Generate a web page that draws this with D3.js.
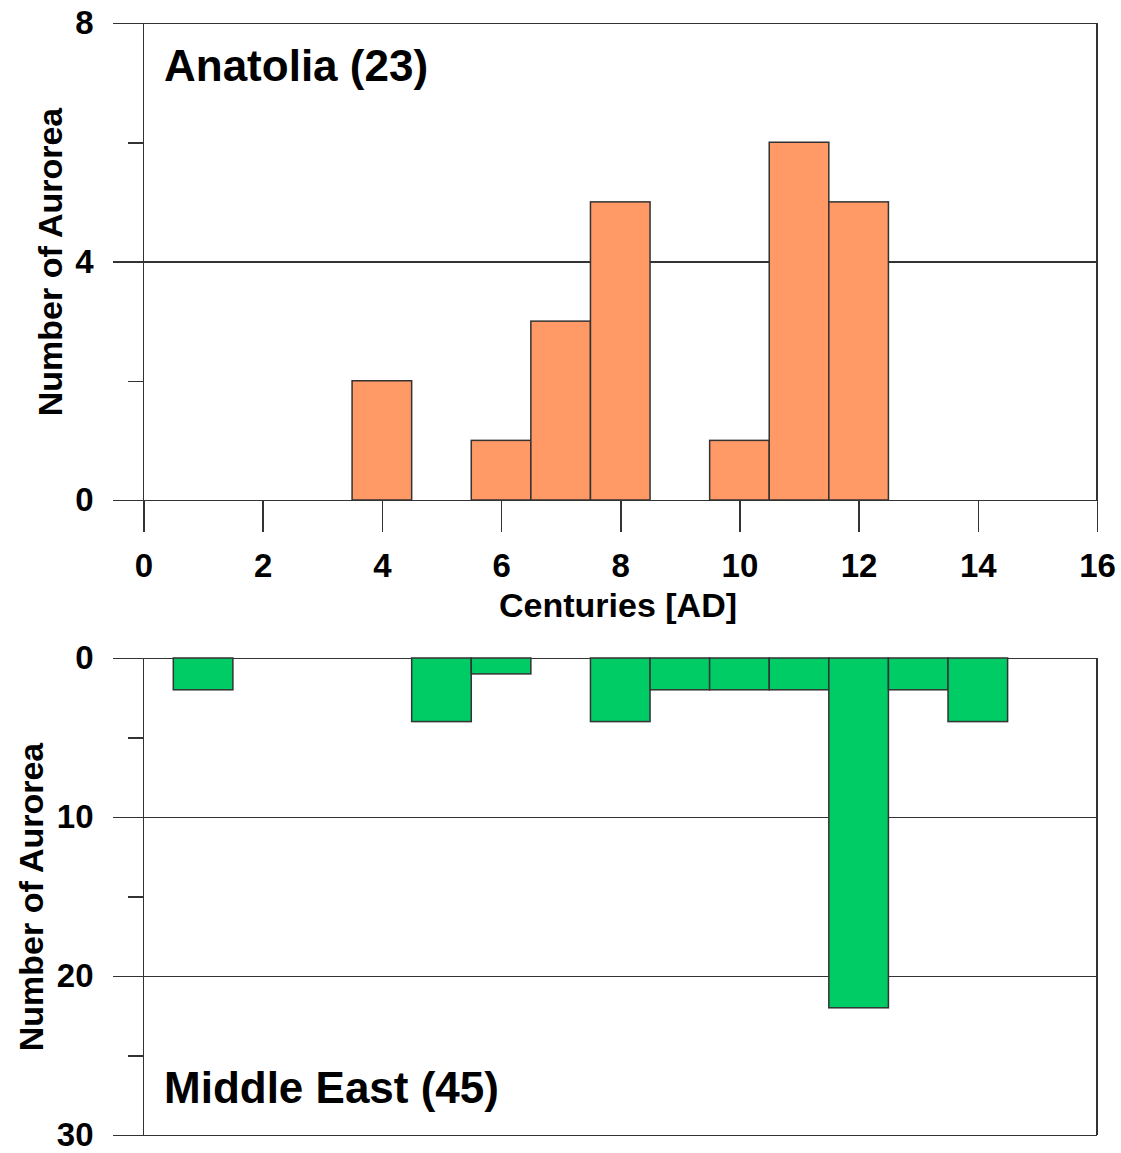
<!DOCTYPE html>
<html lang="en">
	<head>
		<meta charset="utf-8">
		<title>Aurorae by century</title>
		<script type="text/javascript" src="https://cdn.jsdelivr.net/npm/d3@7"></script>
		<style type="text/css">
			body { margin: 0; background: #fff; }
			.axis path { display: none; }
			.axis line { stroke: #333; stroke-width: 1.5; shape-rendering: crispEdges; }
			.axis text { font-family: "Liberation Sans", Arial, sans-serif; font-size: 33px; font-weight: bold; fill: #000; }
			.label { font-family: "Liberation Sans", Arial, sans-serif; font-weight: bold; fill: #000; }
		</style>
	</head>
	<body>
		<script type="text/javascript">
			// counts per century (bar centred on century number)
			var anatoliaCenturies = [4, 6, 7, 8, 10, 11, 12];
			var anatoliaCounts    = [2, 1, 3, 5, 1, 6, 5];

			var middleEastCenturies = [1, 5, 6, 8, 9, 10, 11, 12, 13, 14];
			var middleEastCounts    = [2, 4, 1, 4, 2, 2, 2, 22, 2, 4];

			var xTicks = [0, 2, 4, 6, 8, 10, 12, 14, 16];
			var topMajor = [0, 4, 8], topMinor = [2, 6];
			var botMajor = [0, 10, 20, 30], botMinor = [5, 15, 25];

			var w = 1121, h = 1153;
			var left = 143.5, right = 1097;

			var svg = d3.select("body").append("svg").attr("width", w).attr("height", h);

			var x = d3.scaleLinear().domain([0, 16]).range([left, right]);
			var yTop = d3.scaleLinear().domain([0, 8]).range([500, 23]);
			var yBot = d3.scaleLinear().domain([0, 30]).range([658, 1135]);

			var anatolia = anatoliaCenturies.map(function(c, i) { return {c: c, n: anatoliaCounts[i]}; });
			var middleEast = middleEastCenturies.map(function(c, i) { return {c: c, n: middleEastCounts[i]}; });

			function yAxes(scale, major, minor) {
				// major ticks run across the plot as grid lines
				var g = svg.append("g").attr("class", "axis").attr("transform", "translate(" + left + ",0)")
					.call(d3.axisLeft(scale).tickValues(major).tickSize(31).tickPadding(19));
				g.selectAll("line").attr("x1", right - left);
				svg.append("g").attr("class", "axis").attr("transform", "translate(" + left + ",0)")
					.call(d3.axisLeft(scale).tickValues(minor).tickSize(16).tickFormat(""));
				// left and right frame lines
				svg.append("g").attr("class", "axis").selectAll("line")
					.data([left, right]).enter().append("line")
					.attr("x1", function(d) { return d; }).attr("x2", function(d) { return d; })
					.attr("y1", scale(scale.domain()[0])).attr("y2", scale(scale.domain()[1]));
			}

			// top panel
			yAxes(yTop, topMajor, topMinor);
			svg.append("g").attr("class", "axis").attr("transform", "translate(0,500)")
				.call(d3.axisBottom(x).tickValues(xTicks).tickSize(32).tickPadding(22));

			svg.selectAll("rect.top").data(anatolia).enter().append("rect")
				.attr("class", "top")
				.attr("x", function(d) { return x(d.c - 0.5); })
				.attr("width", function(d) { return x(d.c + 0.5) - x(d.c - 0.5); })
				.attr("y", function(d) { return yTop(d.n); })
				.attr("height", function(d) { return yTop(0) - yTop(d.n); })
				.style("fill", "#ff9966").style("stroke", "#333").style("stroke-width", 1.5);

			// bottom panel
			yAxes(yBot, botMajor, botMinor);

			svg.selectAll("rect.bot").data(middleEast).enter().append("rect")
				.attr("class", "bot")
				.attr("x", function(d) { return x(d.c - 0.5); })
				.attr("width", function(d) { return x(d.c + 0.5) - x(d.c - 0.5); })
				.attr("y", yBot(0))
				.attr("height", function(d) { return yBot(d.n) - yBot(0); })
				.style("fill", "#00cc66").style("stroke", "#333").style("stroke-width", 1.5);

			// labels
			svg.append("text").attr("class", "label").attr("x", 164).attr("y", 81)
				.style("font-size", "44px").text("Anatolia (23)");
			svg.append("text").attr("class", "label").attr("x", 164).attr("y", 1103)
				.style("font-size", "44px").text("Middle East (45)");
			svg.append("text").attr("class", "label").attr("x", 618).attr("y", 617)
				.attr("text-anchor", "middle").style("font-size", "34px").text("Centuries [AD]");
			svg.append("text").attr("class", "label").attr("transform", "translate(62,262) rotate(-90)")
				.attr("text-anchor", "middle").style("font-size", "34px").text("Number of Aurorea");
			svg.append("text").attr("class", "label").attr("transform", "translate(43,897) rotate(-90)")
				.attr("text-anchor", "middle").style("font-size", "34px").text("Number of Aurorea");
		</script>
	</body>
</html>
